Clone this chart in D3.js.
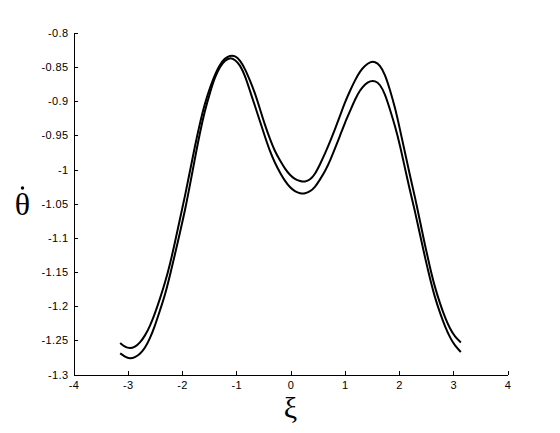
<!DOCTYPE html>
<html>
<head>
<meta charset="utf-8">
<script src="https://cdn.jsdelivr.net/npm/d3@7"></script>
<style>
  body { margin: 0; background: #fff; }
  svg { display: block; }
  .tick text { font-family: "Liberation Sans", Arial, sans-serif; font-size: 11px; letter-spacing: 0.4px; fill: #000; }
  .lbl { font-family: "Liberation Serif", "Times New Roman", serif; fill: #000; }
</style>
</head>
<body>
<div id="chart"></div>
<script>
// tick values
const xTicks = [-4, -3, -2, -1, 0, 1, 2, 3, 4];
const yTicks = [-1.3, -1.25, -1.2, -1.15, -1.1, -1.05, -1, -0.95, -0.9, -0.85, -0.8];

// xi samples, shared by both branches
const xi = [-3.14, -3.05, -2.96, -2.87, -2.77, -2.68, -2.59, -2.50, -2.41, -2.31, -2.22, -2.13, -2.04, -1.94,
            -1.85, -1.76, -1.67, -1.58, -1.48, -1.39, -1.30, -1.21, -1.12, -1.02, -0.93, -0.84, -0.75, -0.65,
            -0.56, -0.47, -0.38, -0.29, -0.19, -0.10, -0.01, 0.08, 0.18, 0.27, 0.36, 0.45, 0.54, 0.64,
            0.73, 0.82, 0.91, 1.00, 1.10, 1.19, 1.28, 1.37, 1.47, 1.56, 1.65, 1.74, 1.83, 1.93,
            2.02, 2.11, 2.20, 2.30, 2.39, 2.48, 2.57, 2.66, 2.76, 2.85, 2.94, 3.03, 3.14];

// upper branch (theta dot)
const thetaA = [-1.254, -1.260, -1.262, -1.260, -1.253, -1.243, -1.229, -1.211, -1.190, -1.165, -1.138, -1.107, -1.073, -1.037,
                -1.001, -0.965, -0.932, -0.903, -0.879, -0.860, -0.846, -0.837, -0.833, -0.833, -0.840, -0.852, -0.869, -0.889,
                -0.912, -0.935, -0.955, -0.973, -0.987, -0.999, -1.008, -1.014, -1.017, -1.018, -1.015, -1.007, -0.993, -0.976,
                -0.959, -0.941, -0.922, -0.902, -0.884, -0.869, -0.856, -0.848, -0.842, -0.842, -0.847, -0.860, -0.882, -0.910,
                -0.942, -0.975, -1.008, -1.042, -1.077, -1.111, -1.143, -1.172, -1.197, -1.217, -1.233, -1.245, -1.253];

// lower branch
const thetaB = [-1.269, -1.274, -1.277, -1.275, -1.270, -1.261, -1.247, -1.229, -1.207, -1.183, -1.154, -1.124, -1.093, -1.058,
                -1.021, -0.983, -0.946, -0.914, -0.886, -0.864, -0.849, -0.840, -0.836, -0.839, -0.847, -0.862, -0.884, -0.908,
                -0.930, -0.952, -0.973, -0.990, -1.005, -1.017, -1.026, -1.032, -1.035, -1.035, -1.032, -1.026, -1.015, -1.002,
                -0.987, -0.969, -0.951, -0.932, -0.914, -0.897, -0.884, -0.875, -0.870, -0.870, -0.875, -0.889, -0.911, -0.937,
                -0.965, -0.998, -1.030, -1.063, -1.096, -1.129, -1.159, -1.187, -1.211, -1.230, -1.246, -1.258, -1.267];

const width = 560, height = 433;

const svg = d3.select('#chart')
    .append('svg')
    .attr('width', width)
    .attr('height', height);

const x = d3.scaleLinear().domain([-4, 4]).range([73.5, 507.5]);
const y = d3.scaleLinear().domain([-1.3, -0.8]).range([374.5, 33]);

const fmt = d => String(+d.toFixed(2));

// x axis, ticks point inward
svg.append('g')
    .attr('transform', `translate(0,${y(-1.3)})`)
    .call(d3.axisBottom(x).tickValues(xTicks).tickFormat(fmt)
        .tickSizeInner(-4).tickSizeOuter(0).tickPadding(7))
    .call(g => g.selectAll('path, line').attr('stroke', '#000').attr('shape-rendering', 'crispEdges'));

// y axis
svg.append('g')
    .attr('transform', `translate(${x(-4)},0)`)
    .call(d3.axisLeft(y).tickValues(yTicks).tickFormat(fmt)
        .tickSizeInner(-4).tickSizeOuter(0).tickPadding(5))
    .call(g => g.selectAll('path, line').attr('stroke', '#000').attr('shape-rendering', 'crispEdges'));

// curves (basis smooths the read-off values a little)
const line = d3.line()
    .x(d => x(d[0]))
    .y(d => y(d[1]))
    .curve(d3.curveBasis);

[thetaA, thetaB].forEach(series => {
    svg.append('path')
        .datum(xi.map((v, i) => [v, series[i]]))
        .attr('fill', 'none')
        .attr('stroke', '#000')
        .attr('stroke-width', 2)
        .attr('stroke-linejoin', 'round')
        .attr('d', line);
});

// axis labels
svg.append('text')
    .attr('class', 'lbl')
    .attr('x', x(0))
    .attr('y', 418)
    .attr('text-anchor', 'middle')
    .style('font-size', '30px')
    .text('ξ');

// theta, the time-derivative dot drawn as a small mark above it
svg.append('text')
    .attr('class', 'lbl')
    .attr('x', 22.5)
    .attr('y', 215)
    .attr('text-anchor', 'middle')
    .style('font-size', '32px')
    .text('θ');

svg.append('circle')
    .attr('cx', 22.5)
    .attr('cy', 188)
    .attr('r', 1.7)
    .attr('fill', '#000');
</script>
</body>
</html>
